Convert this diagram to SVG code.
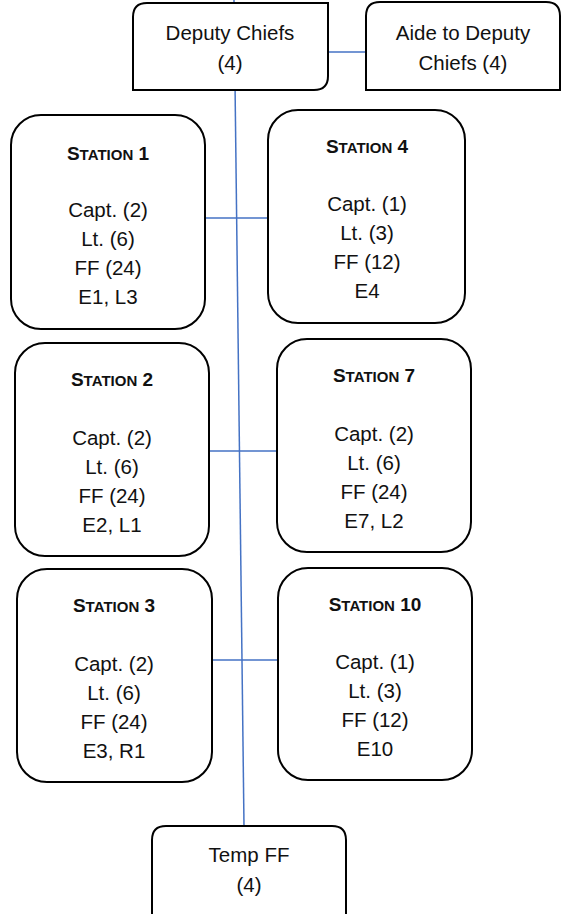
<svg xmlns="http://www.w3.org/2000/svg" width="564" height="914" viewBox="0 0 564 914">
<style>
.box{fill:#fff;stroke:#000;stroke-width:2}
.conn{stroke:#4472C4;stroke-width:1.5;fill:none}
text{font-family:"Liberation Sans",Arial,sans-serif;font-size:20.5px;fill:#111;text-anchor:middle}
.t{font-weight:bold;font-size:19px}
.sc{font-size:15px}
</style>
<rect width="564" height="914" fill="#fff"/>
<g id="connectors">
<line class="conn" x1="234" y1="0" x2="244" y2="826"/>
<line class="conn" x1="328" y1="52" x2="366" y2="52"/>
<line class="conn" x1="205" y1="218" x2="268" y2="218"/>
<line class="conn" x1="209" y1="451" x2="277" y2="451"/>
<line class="conn" x1="212" y1="660" x2="278" y2="660"/>
</g>
<g id="deputy-chiefs">
<path class="box" d="M147,3 H328 V76 Q328,90 314,90 H133 V17 Q133,3 147,3 Z"/>
<text x="230" y="40">Deputy Chiefs</text>
<text x="230" y="70">(4)</text>
</g>
<g id="aide">
<path class="box" d="M380,2 H546 Q560,2 560,16 V90 H366 V16 Q366,2 380,2 Z"/>
<text x="463" y="40">Aide to Deputy</text>
<text x="463" y="70">Chiefs (4)</text>
</g>
<g id="station1">
<rect class="box" x="11" y="115" width="194" height="214" rx="30"/>
<text x="108" y="160" class="t">S<tspan class="sc">TATION</tspan> 1</text>
<text x="108" y="217">Capt. (2)</text>
<text x="108" y="246">Lt. (6)</text>
<text x="108" y="275">FF (24)</text>
<text x="108" y="304">E1, L3</text>
</g>
<g id="station4">
<rect class="box" x="268" y="110" width="197" height="213" rx="30"/>
<text x="367" y="153" class="t">S<tspan class="sc">TATION</tspan> 4</text>
<text x="367" y="211">Capt. (1)</text>
<text x="367" y="240">Lt. (3)</text>
<text x="367" y="269">FF (12)</text>
<text x="367" y="298">E4</text>
</g>
<g id="station2">
<rect class="box" x="15" y="343" width="194" height="213" rx="30"/>
<text x="112" y="386" class="t">S<tspan class="sc">TATION</tspan> 2</text>
<text x="112" y="445">Capt. (2)</text>
<text x="112" y="474">Lt. (6)</text>
<text x="112" y="503">FF (24)</text>
<text x="112" y="532">E2, L1</text>
</g>
<g id="station7">
<rect class="box" x="277" y="339" width="194" height="213" rx="30"/>
<text x="374" y="382" class="t">S<tspan class="sc">TATION</tspan> 7</text>
<text x="374" y="441">Capt. (2)</text>
<text x="374" y="470">Lt. (6)</text>
<text x="374" y="499">FF (24)</text>
<text x="374" y="528">E7, L2</text>
</g>
<g id="station3">
<rect class="box" x="17" y="569" width="195" height="213" rx="30"/>
<text x="114" y="612" class="t">S<tspan class="sc">TATION</tspan> 3</text>
<text x="114" y="671">Capt. (2)</text>
<text x="114" y="700">Lt. (6)</text>
<text x="114" y="729">FF (24)</text>
<text x="114" y="758">E3, R1</text>
</g>
<g id="station10">
<rect class="box" x="278" y="568" width="194" height="212" rx="30"/>
<text x="375" y="611" class="t">S<tspan class="sc">TATION</tspan> 10</text>
<text x="375" y="669">Capt. (1)</text>
<text x="375" y="698">Lt. (3)</text>
<text x="375" y="727">FF (12)</text>
<text x="375" y="756">E10</text>
</g>
<g id="temp-ff">
<path class="box" d="M152,920 V840 Q152,826 166,826 H332 Q346,826 346,840 V920"/>
<text x="249" y="862">Temp FF</text>
<text x="249" y="892">(4)</text>
</g>
</svg>
